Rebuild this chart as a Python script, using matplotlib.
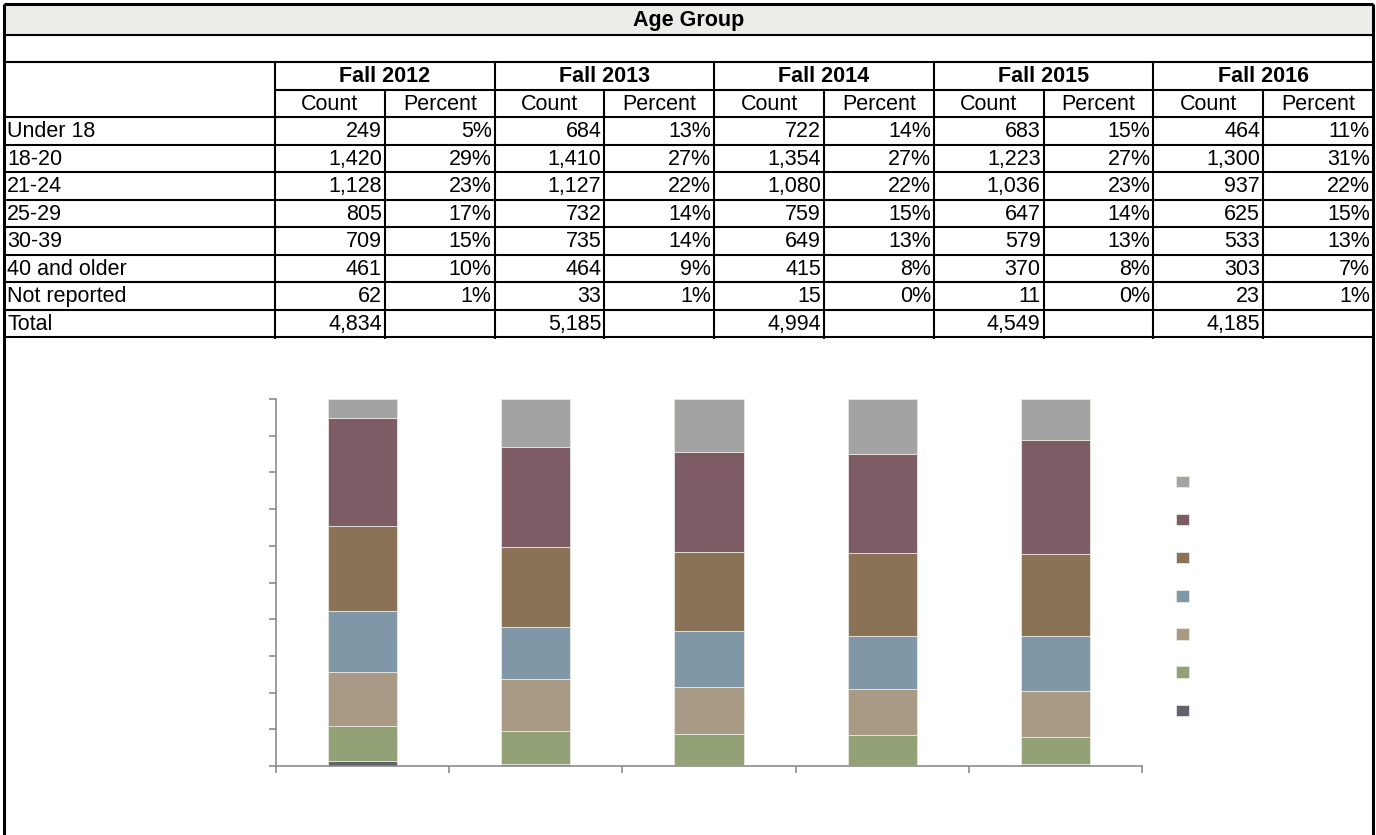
import matplotlib
matplotlib.use("Agg")
import matplotlib.pyplot as plt
import numpy as np

plt.rcParams['font.family'] = ['Liberation Sans', 'DejaVu Sans']

title = "Age Group"
years = ["Fall 2012", "Fall 2013", "Fall 2014", "Fall 2015", "Fall 2016"]
ages = ["Under 18", "18-20", "21-24", "25-29", "30-39", "40 and older", "Not reported"]

count_2012 = [249, 1420, 1128, 805, 709, 461, 62]
count_2013 = [684, 1410, 1127, 732, 735, 464, 33]
count_2014 = [722, 1354, 1080, 759, 649, 415, 15]
count_2015 = [683, 1223, 1036, 647, 579, 370, 11]
count_2016 = [464, 1300, 937, 625, 533, 303, 23]

pct_2012 = ["5%", "29%", "23%", "17%", "15%", "10%", "1%"]
pct_2013 = ["13%", "27%", "22%", "14%", "14%", "9%", "1%"]
pct_2014 = ["14%", "27%", "22%", "15%", "13%", "8%", "0%"]
pct_2015 = ["15%", "27%", "23%", "14%", "13%", "8%", "0%"]
pct_2016 = ["11%", "31%", "22%", "15%", "13%", "7%", "1%"]

totals = [4834, 5185, 4994, 4549, 4185]

colors = ["#A3A3A3", "#7D5C66", "#8A7256", "#7F97A7", "#A99A85", "#93A276", "#62626A"]

counts = [count_2012, count_2013, count_2014, count_2015, count_2016]
pcts = [pct_2012, pct_2013, pct_2014, pct_2015, pct_2016]

W, H = 1376, 835
fig = plt.figure(figsize=(W / 100, H / 100), dpi=100)
tab = fig.add_axes([0, 0, 1, 1])
tab.set_xlim(0, W)
tab.set_ylim(H, 0)
tab.axis('off')

L, R = 4, 1373
lab_r = 275
col_edges = np.linspace(lab_r, R, 11)
y_top, y_title, y_empty, y_fall, y_cnt = 4, 35, 62, 90, 117
rh = 27.5
y_end = y_cnt + rh * 8

lw_in = 1.5
lw_out = 2.2
# title band
tab.fill_between([L, R], y_top, y_title, color="#ECEDE8", zorder=0)
# horizontal lines
for y in [y_top, y_title, y_empty, y_cnt, y_end]:
    tab.plot([L, R], [y, y], color='black', lw=lw_in if y not in (y_top,) else lw_out, solid_capstyle='butt')
for k in range(1, 8):
    y = y_cnt + rh * k
    tab.plot([L, R], [y, y], color='black', lw=lw_in, solid_capstyle='butt')
tab.plot([lab_r, R], [y_fall, y_fall], color='black', lw=lw_in, solid_capstyle='butt')
# vertical lines
tab.plot([L, L], [y_top, H], color='black', lw=lw_out, solid_capstyle='butt')
tab.plot([R, R], [y_top, H], color='black', lw=lw_out, solid_capstyle='butt')
for i, x in enumerate(col_edges[:-1]):
    y0 = y_empty if i % 2 == 0 else y_fall
    tab.plot([x, x], [y0, y_end + 2], color='black', lw=lw_in, solid_capstyle='butt')

fs = 15.5
tab.text((L + R) / 2, (y_top + y_title) / 2 + 1, title, ha='center', va='center',
         fontsize=fs, fontweight='bold')
for j, yr in enumerate(years):
    x0, x1, x2 = col_edges[2 * j], col_edges[2 * j + 1], col_edges[2 * j + 2]
    tab.text((x0 + x2) / 2, (y_empty + y_fall) / 2 + 1, yr, ha='center', va='center',
             fontsize=fs, fontweight='bold')
    tab.text((x0 + x1) / 2, (y_fall + y_cnt) / 2 + 1, "Count", ha='center', va='center', fontsize=fs)
    tab.text((x1 + x2) / 2, (y_fall + y_cnt) / 2 + 1, "Percent", ha='center', va='center', fontsize=fs)
    for i in range(len(ages)):
        yc = y_cnt + rh * i + rh / 2 + 1
        tab.text(x1 - 3, yc, f"{counts[j][i]:,}", ha='right', va='center', fontsize=fs)
        tab.text(x2 - 3, yc, pcts[j][i], ha='right', va='center', fontsize=fs)
    tab.text(x1 - 3, y_cnt + rh * 7 + rh / 2 + 1, f"{totals[j]:,}", ha='right', va='center', fontsize=fs)
for i, a in enumerate(ages + ["Total"]):
    tab.text(L + 3, y_cnt + rh * i + rh / 2 + 1, a, ha='left', va='center', fontsize=fs)

# chart
ax_l, ax_r, ax_t, ax_b = 276, 1142, 399, 766
ax = fig.add_axes([ax_l / W, 1 - ax_b / H, (ax_r - ax_l) / W, (ax_b - ax_t) / H])
x = np.arange(len(years))
bottom = np.zeros(len(years))
handles = []
for i in reversed(range(len(ages))):
    vals = np.array([counts[j][i] / sum(counts[j]) for j in range(len(years))])
    b = ax.bar(x, vals, width=0.4, bottom=bottom, color=colors[i], edgecolor='#E8E8E0',
               linewidth=0.6, label=ages[i])
    handles.append(b)
    bottom += vals
ax.set_xlim(-0.5, len(years) - 0.5)
ax.set_ylim(0, 1)
ax.set_yticks(np.linspace(0, 1, 11))
ax.set_yticklabels([])
ax.set_xticks(np.arange(len(years) + 1) - 0.5)
ax.set_xticklabels([])
for s in ['top', 'right']:
    ax.spines[s].set_visible(False)
for s in ['left', 'bottom']:
    ax.spines[s].set_color('#8C8C8C')
    ax.spines[s].set_linewidth(1.2)
ax.tick_params(axis='both', color='#8C8C8C', length=5, width=1.2, direction='out')
ax.patch.set_alpha(0)

leg = fig.legend(handles[::-1], ages, loc='upper left',
                 bbox_to_anchor=(1165 / W, 1 - 464 / H), frameon=False,
                 fontsize=10, handlelength=0.9, handleheight=0.9,
                 labelspacing=1.74, labelcolor='white', borderpad=0.3)

fig.savefig("out.png", dpi=100)
